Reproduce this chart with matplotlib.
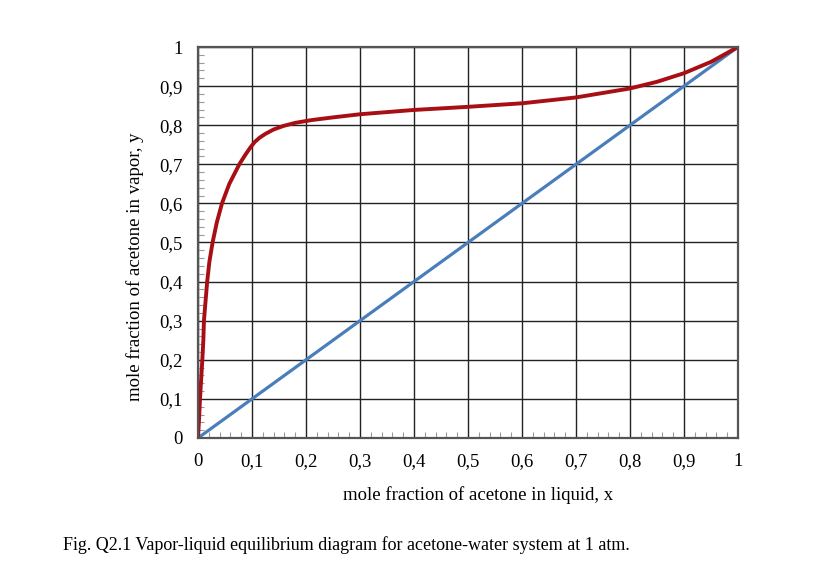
import numpy as np
import matplotlib
matplotlib.use('Agg')
import matplotlib.pyplot as plt
from matplotlib.ticker import MultipleLocator, FuncFormatter

# equilibrium curve
x_eq = [0, 0.002, 0.0037, 0.008, 0.0099, 0.011, 0.014, 0.017, 0.021, 0.027,
        0.0346, 0.0444, 0.058, 0.0765, 0.088, 0.097, 0.105, 0.114, 0.125, 0.14,
        0.158, 0.18, 0.21, 0.25, 0.3, 0.4, 0.5, 0.6, 0.7, 0.8, 0.85, 0.9, 0.95, 1.0]
y_eq = [0, 0.05, 0.1, 0.2, 0.25, 0.3, 0.35, 0.4, 0.45, 0.5,
        0.55, 0.6, 0.65, 0.7, 0.725, 0.743, 0.757, 0.768, 0.778, 0.789,
        0.798, 0.806, 0.813, 0.82, 0.828, 0.839, 0.847, 0.856, 0.871, 0.894, 0.911, 0.933, 0.962, 1.0]
# 45 degree line
x_diag = [0, 1]
y_diag = [0, 1]

plt.rcParams['font.family'] = 'Liberation Serif'

fig = plt.figure(figsize=(8.33, 5.76), dpi=100)
ax = fig.add_axes([198/833, 138/576, 540/833, 391/576])

ax.plot(x_diag, y_diag, color='#4a7ebb', lw=2.3, solid_capstyle='round')
ax.plot(x_eq, y_eq, color='#a80f14', lw=2.8, solid_joinstyle='round', solid_capstyle='round')

ax.set_xlim(0, 1)
ax.set_ylim(0, 1)
ax.xaxis.set_major_locator(MultipleLocator(0.1))
ax.yaxis.set_major_locator(MultipleLocator(0.1))
ax.xaxis.set_minor_locator(MultipleLocator(0.02))
ax.yaxis.set_minor_locator(MultipleLocator(0.02))

fmt = FuncFormatter(lambda v, p: ('%g' % round(v, 1)).replace('.', ','))
ax.xaxis.set_major_formatter(fmt)
ax.yaxis.set_major_formatter(fmt)

ax.grid(True, which='major', color='#222222', lw=1.0)
ax.tick_params(which='major', length=0, labelsize=13.5, pad=11)
ax.tick_params(which='minor', direction='in', length=4, color='#999999', width=0.8)
ax.tick_params(axis='y', pad=11)
for s in ax.spines.values():
    s.set_color('#555555')
    s.set_linewidth(1.6)

fig.text(478/833, 1 - 495/576, 'mole fraction of acetone in liquid, x',
         ha='center', va='center', fontsize=13.5)
fig.text(135/833, 1 - 267/576, 'mole fraction of acetone in vapor, y',
         ha='center', va='center', rotation=90, fontsize=13.5)
fig.text(63/833, 1 - 545/576,
         'Fig. Q2.1 Vapor-liquid equilibrium diagram for acetone-water system at 1 atm.',
         ha='left', va='center', fontsize=13)

fig.savefig('out.png', dpi=100)
